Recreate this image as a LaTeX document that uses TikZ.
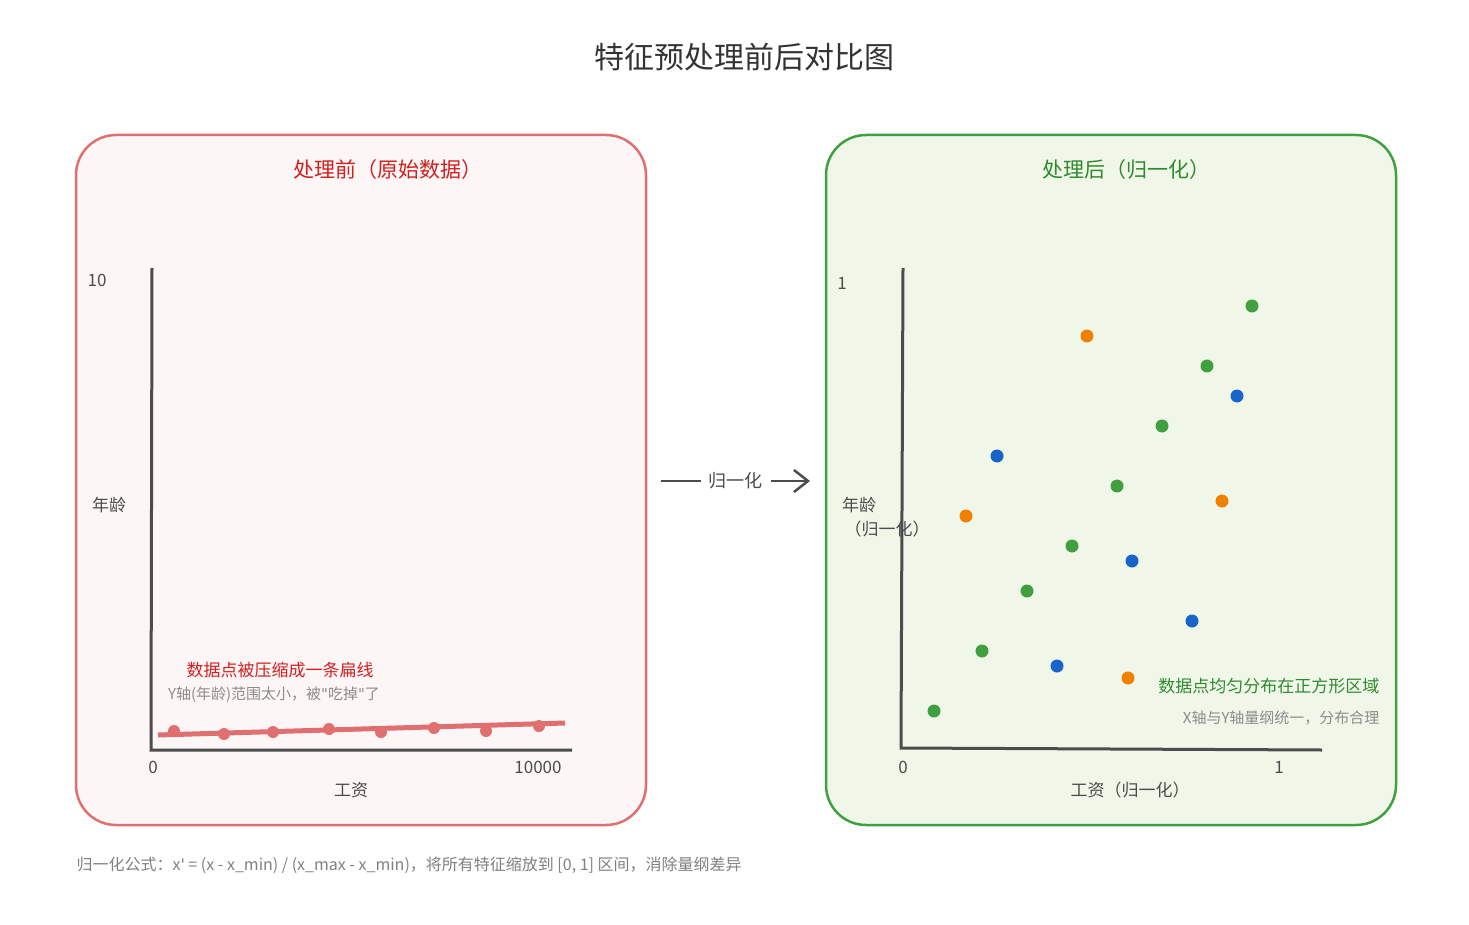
\documentclass[tikz,border=0pt]{standalone}
\usepackage{fontspec}
\setmainfont{Noto Sans CJK SC}
\newfontfamily\lat{DejaVu Sans}
\usetikzlibrary{arrows.meta}
\definecolor{cg}{HTML}{40A040}
\definecolor{cgd}{HTML}{2F8A2F}
\definecolor{co}{HTML}{F08000}
\definecolor{cb}{HTML}{1864C8}
\definecolor{cr}{HTML}{E07070}
\definecolor{crd}{HTML}{D02020}
\definecolor{fillg}{HTML}{F0F7E8}
\definecolor{fillr}{HTML}{FDF6F6}
\begin{document}
\begin{tikzpicture}[x=1pt,y=-1pt,
  axis/.style={draw=black!70,line width=3pt},
  gdot/.style={circle,fill=cg,minimum size=13pt,inner sep=0pt},
  odot/.style={circle,fill=co,minimum size=13pt,inner sep=0pt},
  bdot/.style={circle,fill=cb,minimum size=13pt,inner sep=0pt},
  rdot/.style={circle,fill=cr,minimum size=12pt,inner sep=0pt},
  lbl/.style={text=black!70,font=\fontsize{17}{19}\selectfont}]
\useasboundingbox (0,0) rectangle (1469,925);
\node[text=black!80] (title) at (744,57) {\fontsize{30}{34}\selectfont 特征预处理前后对比图};
\node[draw=cr,line width=2.5pt,fill=fillr,rounded corners=40pt,minimum width=570pt,minimum height=690pt] (lp) at (361,480) {};
\node[draw=cg,line width=2.5pt,fill=fillg,rounded corners=40pt,minimum width=570pt,minimum height=690pt] (rp) at (1111,480) {};
\node[text=crd] (lt) at (388,170) {\fontsize{21}{24}\selectfont 处理前（原始数据）};
\node[text=cgd] (rt) at (1126,170) {\fontsize{21}{24}\selectfont 处理后（归一化）};
% left axes
\coordinate (lo) at (151,750);
\coordinate (ly) at (152,268);
\coordinate (lx) at (572,750);
\draw[axis] (ly) -- (lo) -- (lx);
\node[lbl] (l10) at (97,280) {10};
\node[lbl] (lage) at (109,505) {年龄};
\node[lbl] (l0) at (153,767) {0};
\node[lbl] (l1k) at (538,767) {10000};
\node[lbl] (lsal) at (351,790) {工资};
\coordinate (la) at (158,735);
\coordinate (lb) at (565,723);
\draw[cr,line width=5pt] (la) -- (lb);
\foreach \x/\y in {174/731,224/734,273/732,329/729,381/732,434/728,486/731,539/726}
  \node[rdot] at (\x,\y) {};
\node[text=crd,font=\fontsize{17}{19}\selectfont] (ln1) at (280,670) {数据点被压缩成一条扁线};
\node[text=black!45,font=\fontsize{15}{17}\selectfont] (ln2) at (274,695) {Y轴(年龄)范围太小，被{\lat\char"22}吃掉{\lat\char"22}了};
% arrow
\coordinate (a1) at (661,481);
\coordinate (a2) at (810,481);
\draw[black!70,line width=2.5pt,-{Straight Barb[length=14pt,width=22pt]}] (a1) -- (a2)
  node[midway,fill=white,text=black!70,inner xsep=8pt,font=\fontsize{18}{20}\selectfont] (al) {归一化};
% right axes
\coordinate (ro) at (901,748);
\coordinate (ry) at (903,268);
\coordinate (rx) at (1322,750);
\draw[axis] (ry) -- (ro) -- (rx);
\node[lbl] (r1) at (842,283) {1};
\node[lbl] (rage) at (859,505) {年龄};
\node[lbl] (rage2) at (887,529) {（归一化）};
\node[lbl] (r0) at (903,767) {0};
\node[lbl] (r1b) at (1279,767) {1};
\node[lbl] (rsal) at (1130,790) {工资（归一化）};
\foreach \x/\y in {934/711,982/651,1027/591,1072/546,1117/486,1162/426,1207/366,1252/306}
  \node[gdot] at (\x,\y) {};
\foreach \x/\y in {1087/336,966/516,1222/501,1128/678}
  \node[odot] at (\x,\y) {};
\foreach \x/\y in {997/456,1237/396,1132/561,1192/621,1057/666}
  \node[bdot] at (\x,\y) {};
\node[text=cgd,font=\fontsize{17}{19}\selectfont,anchor=east] (rn1) at (1383,686) {数据点均匀分布在正方形区域};
\node[text=black!45,font=\fontsize{15}{17}\selectfont,anchor=east] (rn2) at (1383,718) {X轴与Y轴量纲统一，分布合理};
\node[text=black!50,font=\fontsize{16}{18}\selectfont,anchor=west] (form) at (73,865) {归一化公式：x{\lat\char"27} = (x - x\_min) / (x\_max - x\_min)，将所有特征缩放到 [0, 1] 区间，消除量纲差异};
\end{tikzpicture}
\end{document}
